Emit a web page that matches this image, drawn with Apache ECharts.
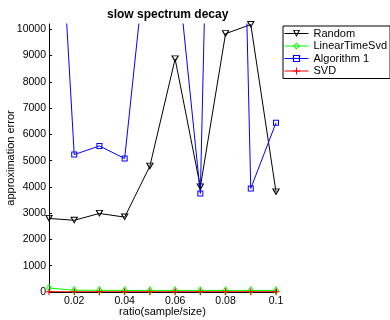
<!DOCTYPE html>
<html>
<head>
<meta charset="utf-8">
<script src="https://cdn.jsdelivr.net/npm/echarts@6/dist/echarts.min.js"></script>
<style>
  html, body { margin: 0; padding: 0; background: #fff; }
  #main { width: 390px; height: 320px; }
</style>
</head>
<body>
<div id="main"></div>
<script>
// ratio(sample/size)
const ratios = [0.01, 0.02, 0.03, 0.04, 0.05, 0.06, 0.07, 0.08, 0.09, 0.1];
// approximation error per method
const randomErr = [2800, 2730, 2990, 2850, 4790, 8870, 4000, 9830, 10180, 3810];
const linearTimeSvdErr = [150, 70, 65, 60, 60, 60, 60, 60, 60, 60];
const algorithm1Err = [22000, 5230, 5560, 5080, 14200, 13200, 3750, 45000, 3940, 6440];
const svdErr = [10, 10, 10, 10, 10, 10, 10, 10, 10, 10];
// tick labels
const xTicks = [0.02, 0.04, 0.06, 0.08, 0.1];
const yTicks = [0, 1000, 2000, 3000, 4000, 5000, 6000, 7000, 8000, 9000, 10000];

const FONT = 'Liberation Sans, Arial, sans-serif';
const pairs = ys => ratios.map((x, i) => [x, ys[i]]);

// hollow marker outlines (outer shape + reversed inner shape)
const triDown = 'path://M0,0L8,0L4,7Z M1.8,0.9L4,4.9L6.2,0.9Z';
const diamond = 'path://M3,0L6,4.5L3,9L0,4.5Z M3,1.6L1.1,4.5L3,7.4L4.9,4.5Z';
const square = 'path://M0,0H6V6H0Z M1,1V5H5V1Z';
const plus = 'path://M3,0h1v3h3v1h-3v3h-1v-3h-3v-1h3z';

const chart = echarts.init(document.getElementById('main'), null, { renderer: 'canvas' });
chart.setOption({
    animation: false,
    backgroundColor: '#fff',
    title: {
        text: 'slow spectrum decay',
        left: 102, top: 4,
        textStyle: { fontFamily: FONT, fontSize: 12, fontWeight: 'bold', color: '#000' }
    },
    legend: {
        orient: 'vertical',
        left: 283, top: 26,
        padding: [2, 3, 2, 1],
        itemWidth: 24, itemHeight: 9, itemGap: 1.5,
        backgroundColor: '#fff',
        borderColor: '#000', borderWidth: 1, borderRadius: 0,
        lineStyle: { width: 1 },
        textStyle: { fontFamily: FONT, fontSize: 11, color: '#000' },
        data: ['Random', 'LinearTimeSvd', 'Algorithm 1', 'SVD']
    },
    grid: { left: 49, top: 24, width: 227, height: 268, outerBoundsMode: 'none' },
    xAxis: {
        type: 'value',
        min: 0.01, max: 0.1,
        name: 'ratio(sample/size)',
        nameLocation: 'middle', nameGap: 14, nameMoveOverlap: false,
        nameTextStyle: { fontFamily: FONT, fontSize: 11, color: '#000' },
        axisLine: { lineStyle: { color: '#000', width: 1 } },
        axisTick: { inside: true, length: 3, customValues: xTicks, lineStyle: { color: '#000' } },
        axisLabel: { customValues: xTicks, margin: 4, fontFamily: FONT, fontSize: 10.5, color: '#000',
            formatter: v => String(v) },
        splitLine: { show: false }
    },
    yAxis: {
        type: 'value',
        min: 0, max: 10200,
        name: 'approximation error',
        nameLocation: 'middle', nameGap: 33, nameMoveOverlap: false,
        nameTextStyle: { fontFamily: FONT, fontSize: 11, color: '#000' },
        axisLine: { show: true, lineStyle: { color: '#000', width: 1 } },
        axisTick: { show: true, inside: true, length: 3, customValues: yTicks, lineStyle: { color: '#000' } },
        axisLabel: { customValues: yTicks, margin: 3, fontFamily: FONT, fontSize: 10.5, color: '#000',
            formatter: v => String(v) },
        splitLine: { show: false }
    },
    series: [
        {
            name: 'Random', type: 'line', data: pairs(randomErr),
            symbol: triDown, symbolSize: [8, 7],
            itemStyle: { color: '#000', borderWidth: 0 },
            lineStyle: { color: '#000', width: 1 }
        },
        {
            name: 'LinearTimeSvd', type: 'line', data: pairs(linearTimeSvdErr),
            symbol: diamond, symbolSize: [6, 9],
            itemStyle: { color: '#00ff00', borderWidth: 0 },
            lineStyle: { color: '#00ff00', width: 1 }
        },
        {
            name: 'Algorithm 1', type: 'line', data: pairs(algorithm1Err),
            symbol: square, symbolSize: 6,
            itemStyle: { color: '#0000ff', borderWidth: 0 },
            lineStyle: { color: '#0000ff', width: 1 }
        },
        {
            name: 'SVD', type: 'line', data: pairs(svdErr),
            symbol: plus, symbolSize: 7,
            itemStyle: { color: '#ff0000', borderWidth: 0 },
            lineStyle: { color: '#ff0000', width: 1 }
        }
    ]
});
</script>
</body>
</html>
